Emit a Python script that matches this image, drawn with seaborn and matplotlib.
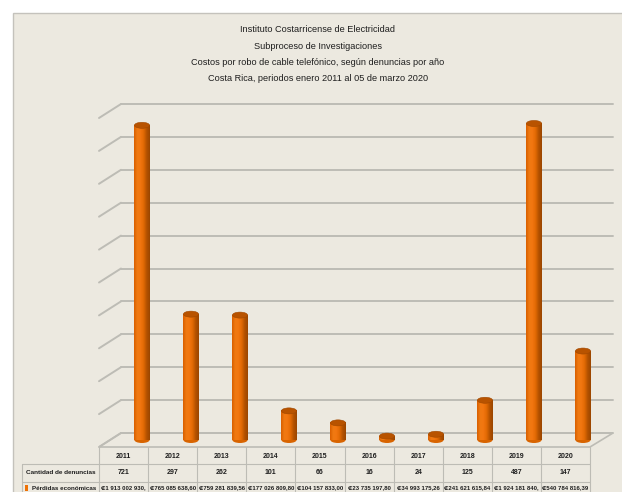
import numpy as np
import pandas as pd
import matplotlib
matplotlib.use("Agg")
import matplotlib.pyplot as plt
import seaborn as sns
from matplotlib.patches import Ellipse, Rectangle, Polygon
from matplotlib.colors import LinearSegmentedColormap

years = ["2011", "2012", "2013", "2014", "2015", "2016", "2017", "2018", "2019", "2020"]
losses = [1913002930.0, 765085638.60, 759281839.56, 177026809.80, 104157833.00,
          23735197.80, 34993175.26, 241621615.84, 1924181840.0, 540784816.39]
complaints = [721, 297, 262, 101, 66, 16, 24, 125, 487, 147]
loss_labels = ["₡1 913 002 930,", "₡765 085 638,60", "₡759 281 839,56", "₡177 026 809,80",
               "₡104 157 833,00", "₡23 735 197,80", "₡34 993 175,26", "₡241 621 615,84",
               "₡1 924 181 840,", "₡540 784 816,39"]
title_lines = ["Instituto Costarricense de Electricidad",
               "Subproceso de Investigaciones",
               "Costos por robo de cable telefónico, según denuncias por año",
               "Costa Rica, periodos enero 2011 al 05 de marzo 2020"]
row_labels = ["Cantidad de denuncias", "Pérdidas económicas"]

sns.set_theme(style="white")
plt.rcParams["font.family"] = ["Liberation Sans", "DejaVu Sans"]

W, H = 622, 492
BG = "#ECE9E0"
GRID = "#BDBCB5"
ORANGE = "#EE7106"
TXT = "#1E1E1E"

fig = plt.figure(figsize=(W / 100, H / 100), dpi=100)
fig.patch.set_facecolor("white")

def frac(x0, y0, x1, y1):
    return [x0 / W, 1 - y1 / H, (x1 - x0) / W, (y1 - y0) / H]

# decor axes in pixel space
axd = fig.add_axes([0, 0, 1, 1], zorder=0)
axd.set_xlim(0, W)
axd.set_ylim(H, 0)
axd.axis("off")
axd.add_patch(Rectangle((13, 13), W - 13 + 5, H - 13 + 5, facecolor=BG,
                        edgecolor="#C4C2BC", lw=1.0))

# wall with gridlines
axw = fig.add_axes(frac(121, 104, 613, 433), zorder=1)
axw.patch.set_alpha(0)
axw.set_ylim(0, 2e9)
axw.set_xlim(0, 1)
ticks = np.arange(0, 2.0e9 + 1, 2e8)
for t in ticks:
    axw.axhline(t, color=GRID, lw=1.4, clip_on=False)
for s in axw.spines.values():
    s.set_visible(False)
axw.set_xticks([])
axw.set_yticks([])
# depth diagonals
for t in ticks:
    y = 433 - (433 - 104) * t / 2e9
    axd.plot([99, 121], [y + 14, y], color=GRID, lw=1.4)
# floor
axd.add_patch(Polygon([[99, 447], [590, 447], [613, 433], [121, 433]], closed=True,
                      facecolor=BG, edgecolor=GRID, lw=1.2))

# bars
axb = fig.add_axes(frac(117.5, 111, 607.5, 440), zorder=2)
axb.patch.set_alpha(0)
df = pd.DataFrame({"year": years, "loss": losses})
sns.barplot(data=df, x="year", y="loss", color=ORANGE, width=0.31, ax=axb,
            saturation=1, edgecolor="none")
ylo, yhi = 0, 2e9
cmap = LinearSegmentedColormap.from_list(
    "cyl", ["#D85F00", "#F07A12", "#F27610", "#E26A04", "#B45200", "#9A4600"])
grad = np.linspace(0, 1, 64).reshape(1, -1)
ell_h = 6 / 164.5e-9
for p in list(axb.patches):
    x0, w, h = p.get_x(), p.get_width(), p.get_height()
    axb.imshow(grad, extent=[x0, x0 + w, 0, h], aspect="auto", cmap=cmap,
               origin="lower", zorder=3, interpolation="bilinear")
    axb.add_patch(Ellipse((x0 + w / 2, 0), w, ell_h, facecolor="#D86400",
                          edgecolor="none", zorder=2.9, clip_on=False))
    axb.add_patch(Ellipse((x0 + w / 2, h), w, ell_h, angle=0, facecolor="#B85300",
                          edgecolor="#A04800", lw=0.4, zorder=4, clip_on=False))
axb.set_ylim(ylo, yhi)
axb.set_xlim(-0.5, 9.5)
axb.axis("off")

# title
for i, line in enumerate(title_lines):
    axd.text(318, 30 + i * 16.2, line, ha="center", va="center", fontsize=6.6, color=TXT)

# data table
colw = 49.1
xs = [99 + colw * k for k in range(11)]
for x in xs:
    axd.plot([x, x], [447, 495], color="#BDBCB5", lw=0.8)
axd.plot([22, 590], [464, 464], color="#BDBCB5", lw=0.8)
axd.plot([22, 590], [482, 482], color="#BDBCB5", lw=0.8)
axd.plot([22, 22], [464, 495], color="#BDBCB5", lw=0.8)
for k in range(10):
    cx = 99 + colw * (k + 0.5)
    axd.text(cx, 456, years[k], ha="center", va="center", fontsize=5, color=TXT,
             fontweight="bold")
    axd.text(cx, 473, str(complaints[k]), ha="center", va="center", fontsize=5,
             color=TXT, fontweight="bold")
    axd.text(cx, 488, loss_labels[k], ha="center", va="center", fontsize=4.3,
             color=TXT, fontweight="bold")
axd.text(96, 473, row_labels[0], ha="right", va="center", fontsize=4.6, color=TXT,
         fontweight="bold")
axd.add_patch(Rectangle((24.5, 485), 3.5, 6, facecolor=ORANGE, edgecolor="none"))
axd.text(96, 488, row_labels[1], ha="right", va="center", fontsize=4.5, color=TXT,
         fontweight="bold")

fig.savefig("out.png", dpi=100, facecolor="white")
